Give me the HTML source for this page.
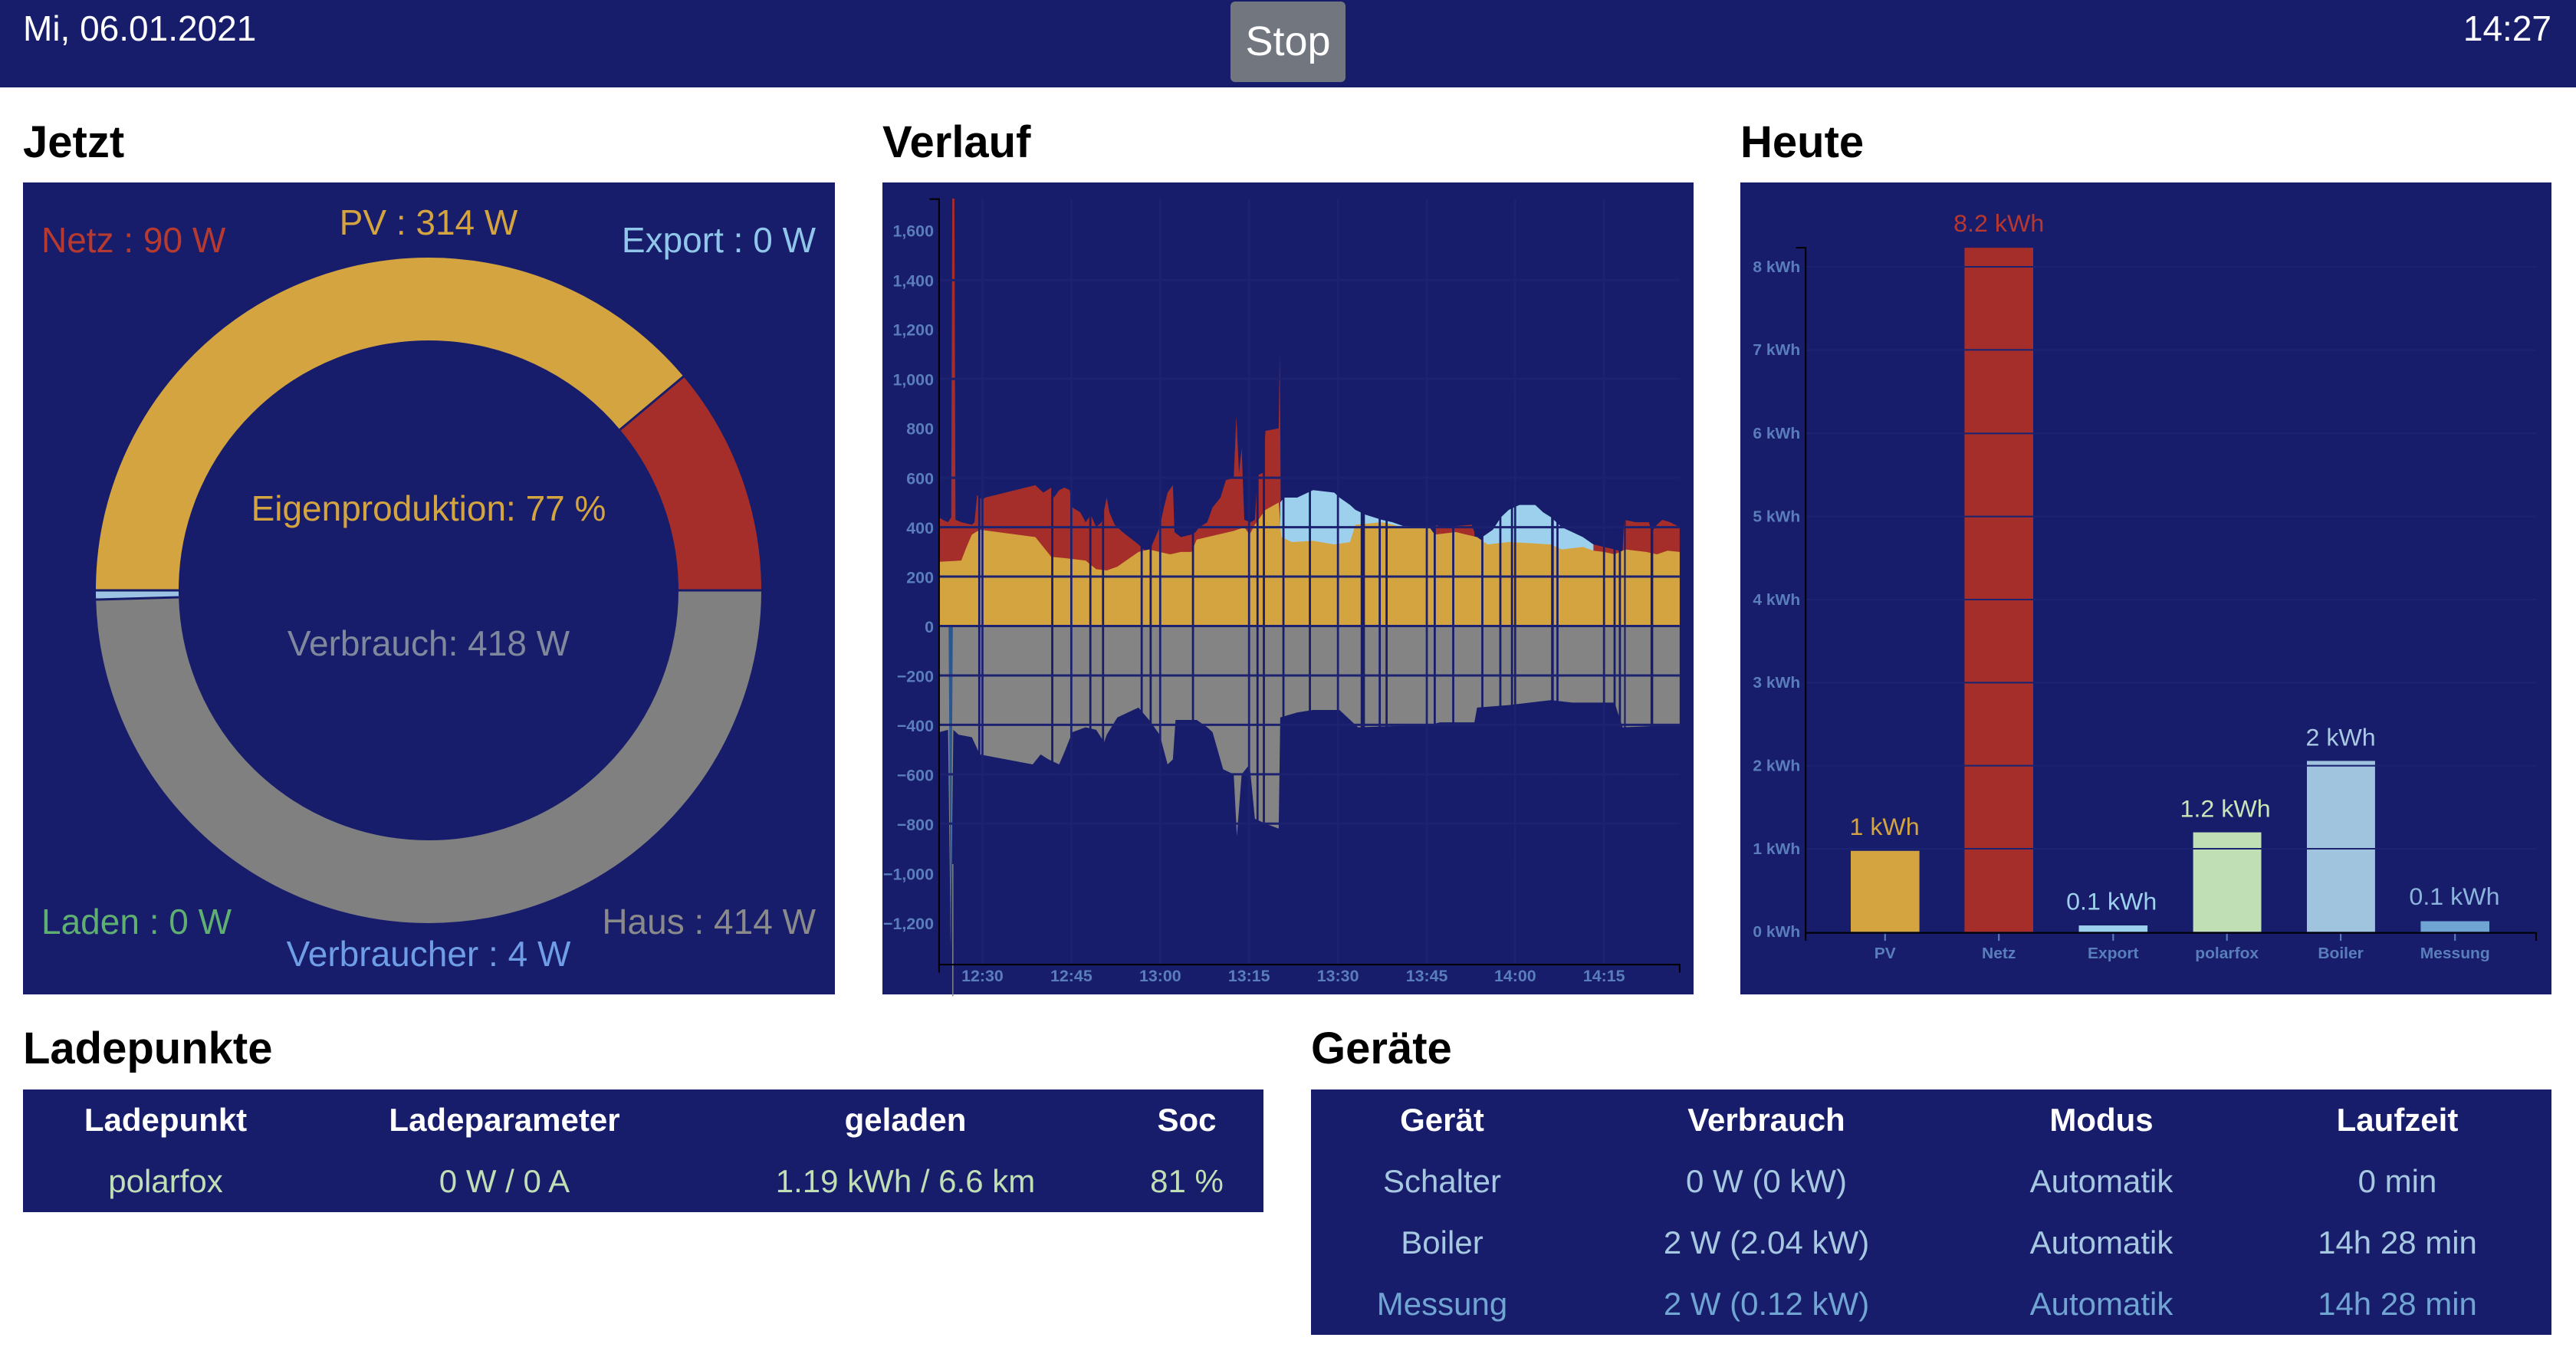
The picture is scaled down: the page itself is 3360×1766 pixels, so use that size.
<!DOCTYPE html>
<html><head><meta charset="utf-8"><style>
body{margin:0;width:3360px;height:1766px;background:#fff;position:relative;overflow:hidden;font-family:"Liberation Sans",sans-serif}
.a{position:absolute;white-space:nowrap}
.h{font-size:58px;font-weight:bold;color:#000}
table{border-collapse:collapse;position:absolute;background:#171d6b}
td,th{text-align:center;font-size:42px;padding:0;height:80px}
th{color:#fff}
</style></head><body>
<div class="a" style="left:0;top:0;width:3360px;height:114px;background:#171d6b"></div>
<div class="a" style="left:30px;top:10px;font-size:46px;color:#fff">Mi, 06.01.2021</div>
<div class="a" style="left:1605px;top:2px;width:150px;height:105px;background:#71767f;border-radius:6px;color:#fff;font-size:54px;line-height:105px;text-align:center">Stop</div>
<div class="a" style="right:32px;top:10px;font-size:46px;color:#fff">14:27</div>

<div class="a h" style="left:30px;top:152px">Jetzt</div>
<div class="a h" style="left:1151px;top:152px">Verlauf</div>
<div class="a h" style="left:2270px;top:152px">Heute</div>
<div class="a h" style="left:30px;top:1334px">Ladepunkte</div>
<div class="a h" style="left:1710px;top:1334px">Geräte</div>

<svg class="a" style="left:0;top:0" width="3360" height="1766" viewBox="0 0 3360 1766">
<rect x="30" y="238" width="1059" height="1059" fill="#171d6b"/>
<rect x="1151" y="238" width="1058" height="1059" fill="#171d6b"/>
<rect x="2270" y="238" width="1058" height="1059" fill="#171d6b"/>
<!-- donut -->
<g fill="none" stroke-width="108">
<circle cx="559" cy="770" r="380" stroke="#808080" stroke-dasharray="1182.5 2387.6" stroke-dashoffset="0"/>
<circle cx="559" cy="770" r="380" stroke="#9cc3e4" stroke-dasharray="11.3 2387.6" stroke-dashoffset="-1182.5"/>
<circle cx="559" cy="770" r="380" stroke="#d4a440" stroke-dasharray="928.5 2387.6" stroke-dashoffset="-1193.8"/>
<circle cx="559" cy="770" r="380" stroke="#a52e2a" stroke-dasharray="265.3 2387.6" stroke-dashoffset="-2122.3"/>
</g>
<g stroke="#171d6b" stroke-width="3">
<line x1="808.7" y1="560.4" x2="892" y2="490.6"/>
<line x1="233" y1="770" x2="125" y2="770"/>
<line x1="885" y1="770" x2="993" y2="770"/>
<line x1="233" y1="779" x2="125" y2="782"/>
</g>
<g font-family="Liberation Sans, sans-serif" font-size="46">
<text x="54" y="329" fill="#b73a30">Netz : 90 W</text>
<text x="559" y="306" fill="#d4a440" text-anchor="middle">PV : 314 W</text>
<text x="1064" y="329" fill="#8fc6ea" text-anchor="end">Export : 0 W</text>
<text x="559" y="679" fill="#d4a440" text-anchor="middle">Eigenproduktion: 77 %</text>
<text x="559" y="855" fill="#7f889c" text-anchor="middle">Verbrauch: 418 W</text>
<text x="54" y="1218" fill="#5fae72">Laden : 0 W</text>
<text x="1064" y="1218" fill="#8a8a8a" text-anchor="end">Haus : 414 W</text>
<text x="559" y="1260" fill="#6f9ee6" text-anchor="middle">Verbraucher : 4 W</text>
</g>

<!-- Verlauf -->
<g transform="translate(1140,230) scale(0.69)">
<g transform="translate(0,850) scale(1,-0.467)">
<polygon fill="#a52e2a" points="123,0 123,440 130,430 140,420 146,440 148,1730 152,1730 154,430 165,420 185,410 190,420 195,530 205,510 210,520 305,570 320,540 335,560 340,520 350,550 360,560 370,550 375,480 390,460 400,420 410,450 420,400 430,420 440,520 445,460 455,410 470,380 500,330 510,310 520,300 530,350 540,400 548,480 555,540 565,570 568,380 580,360 600,370 608,380 615,400 630,420 640,480 655,520 665,590 680,600 685,850 690,620 695,720 700,430 712,420 720,430 725,610 735,620 740,790 765,800 767,1100 768,800 770,0"/>
<polygon fill="#a52e2a" points="1060,0 1060,410 1075,400 1130,410 1135,380 1140,0"/>
<polygon fill="#a52e2a" points="1360,0 1360,330 1380,320 1400,310 1415,300 1418,430 1440,420 1465,420 1470,380 1480,410 1490,430 1505,420 1523,400 1523,0"/>
<polygon fill="#9dd0ec" points="768,0 768,500 775,520 800,520 820,540 830,550 870,540 880,520 900,490 910,470 930,450 960,430 980,420 1000,405 1050,400 1060,0"/>
<polygon fill="#9dd0ec" points="1140,0 1150,360 1170,390 1185,440 1200,470 1220,490 1250,490 1265,460 1280,440 1300,400 1320,380 1340,360 1360,330 1360,0"/>
<polygon fill="#d4a440" points="123,0 123,260 165,265 175,320 185,370 200,390 305,360 320,320 335,280 360,275 400,265 420,230 440,225 460,240 480,270 500,300 520,310 540,300 560,290 580,300 600,300 610,350 650,370 680,385 700,400 710,370 720,410 740,470 765,500 770,360 790,340 830,345 870,330 900,340 910,410 960,420 1000,400 1050,400 1060,370 1100,380 1140,360 1160,330 1200,340 1240,335 1280,330 1300,310 1340,320 1360,305 1380,300 1400,290 1420,310 1460,300 1480,290 1500,305 1523,300 1523,0"/>
<polygon fill="#848484" points="123,0 123,-430 140,-420 145,-1300 150,-420 160,-440 185,-450 200,-520 300,-560 315,-520 330,-540 350,-560 360,-510 375,-430 400,-410 420,-420 435,-470 440,-440 460,-370 480,-350 500,-330 520,-380 540,-440 555,-560 565,-540 570,-380 600,-380 610,-380 630,-410 640,-430 660,-580 680,-600 686,-850 695,-600 710,-560 720,-780 740,-800 765,-820 768,-370 800,-350 830,-340 880,-340 915,-410 1050,-400 1070,-390 1135,-390 1140,-330 1200,-320 1280,-300 1320,-310 1400,-310 1415,-410 1523,-400 1523,0"/>
<polygon fill="#2a5790" points="141,0 145,-1300 149,0"/>
<g fill="#171d6b">
<rect x="197" y="-950" width="4" height="1900"/><rect x="335" y="-950" width="4" height="1900"/><rect x="407" y="-950" width="4" height="1900"/><rect x="431" y="-950" width="4" height="1900"/><rect x="504" y="-950" width="4" height="1900"/><rect x="521" y="-950" width="4" height="1900"/><rect x="601" y="-950" width="4" height="1900"/><rect x="723" y="-950" width="4" height="1900"/><rect x="735" y="-950" width="4" height="1900"/><rect x="772" y="-950" width="4" height="1900"/><rect x="822" y="-950" width="4" height="1900"/><rect x="920" y="-950" width="8" height="1900"/><rect x="954" y="-950" width="4" height="1900"/><rect x="967" y="-950" width="4" height="1900"/><rect x="1058" y="-950" width="4" height="1900"/><rect x="1093" y="-950" width="4" height="1900"/><rect x="1148" y="-950" width="4" height="1900"/><rect x="1182" y="-950" width="4" height="1900"/><rect x="1204" y="-950" width="4" height="1900"/><rect x="1280" y="-950" width="5" height="1900"/><rect x="1290" y="-950" width="4" height="1900"/><rect x="1398" y="-950" width="4" height="1900"/><rect x="1408" y="-950" width="4" height="1900"/><rect x="1418" y="-950" width="3" height="1900"/><rect x="1468" y="-950" width="5" height="1900"/>
</g>
<g stroke="#1c2270" stroke-width="3">
<line x1="123" x2="1523" y1="1400" y2="1400" vector-effect="non-scaling-stroke"/>
<line x1="123" x2="1523" y1="1000" y2="1000" vector-effect="non-scaling-stroke"/>
<line x1="123" x2="1523" y1="600" y2="600" vector-effect="non-scaling-stroke"/>
<line x1="123" x2="1523" y1="400" y2="400" vector-effect="non-scaling-stroke"/>
<line x1="123" x2="1523" y1="200" y2="200" vector-effect="non-scaling-stroke"/>
<line x1="123" x2="1523" y1="0" y2="0" vector-effect="non-scaling-stroke"/>
<line x1="123" x2="1523" y1="-200" y2="-200" vector-effect="non-scaling-stroke"/>
<line x1="123" x2="1523" y1="-400" y2="-400" vector-effect="non-scaling-stroke"/>
<line x1="123" x2="1523" y1="-600" y2="-600" vector-effect="non-scaling-stroke"/>
<line x1="123" x2="1523" y1="-800" y2="-800" vector-effect="non-scaling-stroke"/>
</g>
</g>
<g stroke="#1c2270" stroke-width="4">
<line x1="205" x2="205" y1="43" y2="1490"/><line x1="373" x2="373" y1="43" y2="1490"/><line x1="541" x2="541" y1="43" y2="1490"/><line x1="709" x2="709" y1="43" y2="1490"/><line x1="877" x2="877" y1="43" y2="1490"/><line x1="1045" x2="1045" y1="43" y2="1490"/><line x1="1212" x2="1212" y1="43" y2="1490"/><line x1="1380" x2="1380" y1="43" y2="1490"/>
</g>
<line x1="149" x2="149" y1="1300" y2="1550" stroke="#8a8a8a" stroke-width="2"/>
<g stroke="#000" stroke-width="3" fill="none">
<path d="M105,43 H123 V1490 H1523 V1505"/>
<path d="M123,1490 V1505"/>
</g>
<g font-family="Liberation Sans, sans-serif" font-size="31" font-weight="bold" fill="#5a7dbb" text-anchor="end">
<text x="113" y="114">1,600</text><text x="113" y="208">1,400</text><text x="113" y="301">1,200</text><text x="113" y="395">1,000</text><text x="113" y="488">800</text><text x="113" y="582">600</text><text x="113" y="675">400</text><text x="113" y="769">200</text><text x="113" y="862">0</text><text x="113" y="956">−200</text><text x="113" y="1049">−400</text><text x="113" y="1143">−600</text><text x="113" y="1236">−800</text><text x="113" y="1330">−1,000</text><text x="113" y="1423">−1,200</text>
</g>
<g font-family="Liberation Sans, sans-serif" font-size="31" font-weight="bold" fill="#5a7dbb" text-anchor="middle">
<text x="205" y="1522">12:30</text><text x="373" y="1522">12:45</text><text x="541" y="1522">13:00</text><text x="709" y="1522">13:15</text><text x="877" y="1522">13:30</text><text x="1045" y="1522">13:45</text><text x="1212" y="1522">14:00</text><text x="1380" y="1522">14:15</text>
</g>
</g>

<!-- Heute -->
<g transform="translate(2260,230) scale(0.70,0.69)">
<rect x="220" y="1275" width="128" height="153" fill="#d4a440"/>
<rect x="432" y="135" width="128" height="1293" fill="#a52e2a"/>
<rect x="645" y="1416" width="128" height="12" fill="#9dd0ec"/>
<rect x="858" y="1240" width="127" height="188" fill="#c1dfb4"/>
<rect x="1070" y="1105" width="127" height="323" fill="#a1c4de"/>
<rect x="1282" y="1408" width="128" height="20" fill="#70a4d2"/>
<g stroke="#1c2370" stroke-width="3">
<line x1="136" x2="1497" y1="1271" y2="1271"/><line x1="136" x2="1497" y1="1114" y2="1114"/><line x1="136" x2="1497" y1="957" y2="957"/><line x1="136" x2="1497" y1="800" y2="800"/><line x1="136" x2="1497" y1="643" y2="643"/><line x1="136" x2="1497" y1="486" y2="486"/><line x1="136" x2="1497" y1="328" y2="328"/><line x1="136" x2="1497" y1="171" y2="171"/>
</g>
<g stroke="#000" stroke-width="3" fill="none"><path d="M118,135 H136 V1430 H1497 V1445"/><path d="M136,1430 V1445"/></g>
<g stroke="#5a7dbb" stroke-width="3"><line x1="284" x2="284" y1="1432" y2="1445"/><line x1="496" x2="496" y1="1432" y2="1445"/><line x1="709" x2="709" y1="1432" y2="1445"/><line x1="921" x2="921" y1="1432" y2="1445"/><line x1="1133" x2="1133" y1="1432" y2="1445"/><line x1="1346" x2="1346" y1="1432" y2="1445"/></g>
<g font-family="Liberation Sans, sans-serif" font-size="30" font-weight="bold" fill="#5a7dbb" text-anchor="end">
<text x="126" y="181">8 kWh</text><text x="126" y="338">7 kWh</text><text x="126" y="496">6 kWh</text><text x="126" y="653">5 kWh</text><text x="126" y="810">4 kWh</text><text x="126" y="967">3 kWh</text><text x="126" y="1124">2 kWh</text><text x="126" y="1281">1 kWh</text><text x="126" y="1438">0 kWh</text>
</g>
<g font-family="Liberation Sans, sans-serif" font-size="30" font-weight="bold" fill="#5a7dbb" text-anchor="middle">
<text x="284" y="1478">PV</text><text x="496" y="1478">Netz</text><text x="709" y="1478">Export</text><text x="921" y="1478">polarfox</text><text x="1133" y="1478">Boiler</text><text x="1346" y="1478">Messung</text>
</g>
<g font-family="Liberation Sans, sans-serif" font-size="46" text-anchor="middle">
<text x="283" y="1245" fill="#d4a440">1 kWh</text>
<text x="496" y="104" fill="#b8382f">8.2 kWh</text>
<text x="706" y="1386" fill="#9dd0ec">0.1 kWh</text>
<text x="918" y="1211" fill="#c9e6b8">1.2 kWh</text>
<text x="1133" y="1076" fill="#a9c8e2">2 kWh</text>
<text x="1345" y="1377" fill="#8ab4dc">0.1 kWh</text>
</g>
</g>
</svg>

<table style="left:30px;top:1421px;width:1618px;height:158px">
<tr><th style="width:372px">Ladepunkt</th><th style="width:512px">Ladeparameter</th><th style="width:534px">geladen</th><th>Soc</th></tr>
<tr style="color:#c1dfb4"><td>polarfox</td><td>0 W / 0 A</td><td>1.19 kWh / 6.6 km</td><td>81 %</td></tr>
</table>
<table style="left:1710px;top:1421px;width:1618px;height:317px">
<tr><th style="width:342px">Gerät</th><th style="width:504px">Verbrauch</th><th style="width:370px">Modus</th><th>Laufzeit</th></tr>
<tr style="color:#a6c8e0"><td>Schalter</td><td>0 W (0 kW)</td><td>Automatik</td><td>0 min</td></tr>
<tr style="color:#a6c8e0"><td>Boiler</td><td>2 W (2.04 kW)</td><td>Automatik</td><td>14h 28 min</td></tr>
<tr style="color:#70a4d2"><td>Messung</td><td>2 W (0.12 kW)</td><td>Automatik</td><td>14h 28 min</td></tr>
</table>
</body></html>
